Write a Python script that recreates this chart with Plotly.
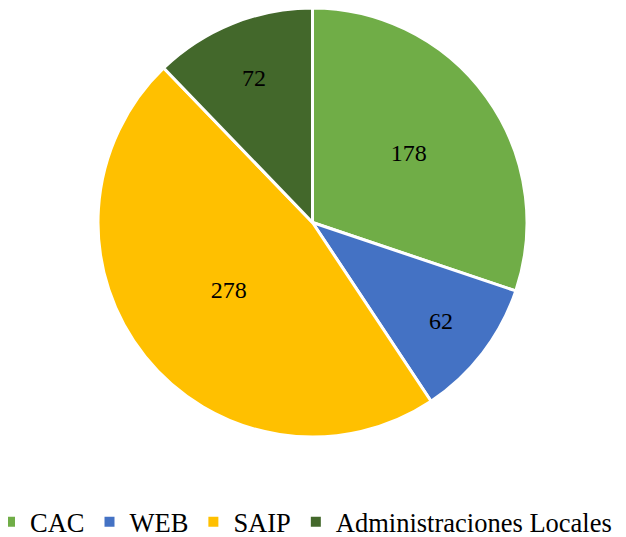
import plotly.graph_objects as go

labels = ["CAC", "WEB", "SAIP", "Administraciones Locales"]
values = [178, 62, 278, 72]
colors = ["#70AD47", "#4472C4", "#FFC000", "#43682B"]

W, H = 626, 537
MB = 40                      # bottom margin reserved for the legend
PH = H - MB                  # plot-area height
cx, cy, r = 304.5, 214.5, 214.5
SERIF = "Liberation Serif, Times New Roman, serif"

fig = go.Figure(go.Pie(
    labels=labels, values=values, sort=False, direction="clockwise", rotation=0,
    marker=dict(colors=colors, line=dict(color="white", width=3)),
    textinfo="value", textposition="inside", insidetextorientation="horizontal",
    textfont=dict(family=SERIF, size=24, color="black"),
    domain=dict(x=[(cx - r) / W, (cx + r) / W],
                y=[max(0, (PH - cy - r) / PH), min(1, (PH - cy + r) / PH)]),
    hoverinfo="label+value",
))
fig.update_layout(
    width=W, height=H, margin=dict(l=0, r=0, t=0, b=MB, autoexpand=False),
    paper_bgcolor="white", plot_bgcolor="white",
    font=dict(family=SERIF, color="black"),
    showlegend=True,
    legend=dict(orientation="h", x=-18 / W, xanchor="left", y=1 - 514 / PH, yanchor="middle",
                font=dict(family=SERIF, size=26.5, color="black"),
                itemsizing="constant", traceorder="normal"),
)
fig.write_html("out.html")
